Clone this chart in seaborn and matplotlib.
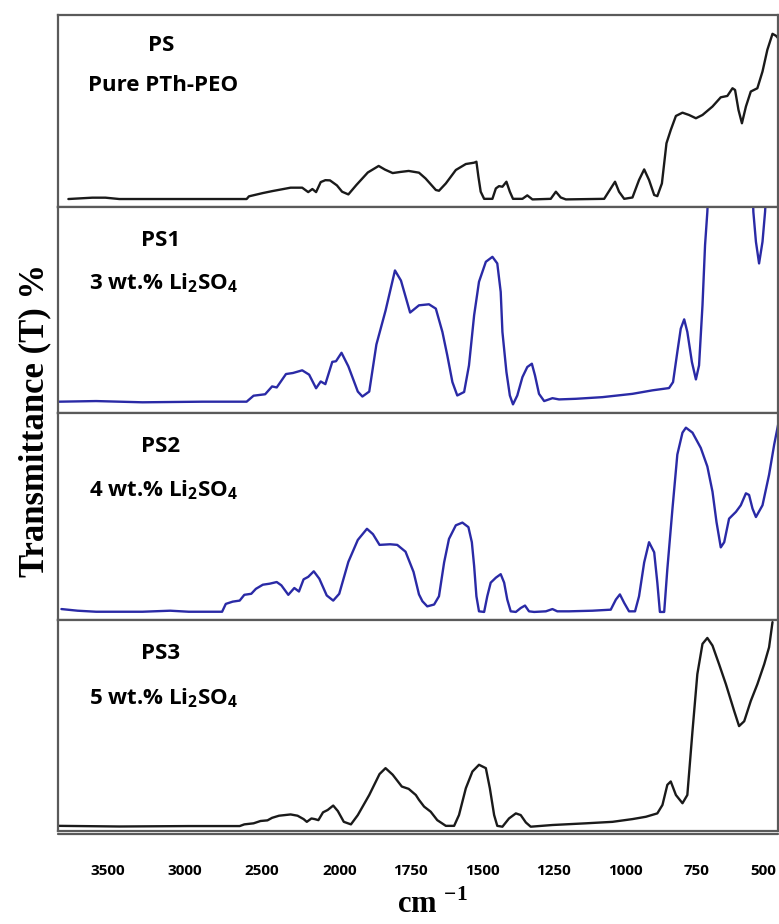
import numpy as np
import pandas as pd
import matplotlib
matplotlib.use("Agg")
import matplotlib.pyplot as plt
import matplotlib.transforms as mtransforms
import seaborn as sns

# wavenumber (cm-1) and transmittance (arbitrary units, 0-100 per panel)
ps_wn = [3755, 3600, 3515, 3425, 2600, 2585, 2495, 2435, 2315, 2240, 2201, 2174, 2150, 2120,
         2090, 2060, 2015, 1990, 1968, 1940, 1900, 1862, 1840, 1813, 1785, 1757, 1721, 1698,
         1662, 1651, 1627, 1592, 1557, 1528, 1520, 1513, 1505, 1493, 1464, 1452, 1441, 1429,
         1415, 1403, 1392, 1359, 1342, 1324, 1260, 1242, 1225, 1207, 1073, 1050, 1035, 1021,
         1003, 974, 951, 933, 916, 898, 887, 871, 855, 840, 822, 799, 776, 752, 729, 694,
         665, 642, 624, 615, 603, 591, 577, 560, 537, 519, 502, 484, 472, 464]
ps_t = [4.2, 4.9, 4.9, 4.2, 4.2, 5.6, 7.3, 8.3, 10.1, 10.1, 7.8, 9.4, 7.8, 13.0,
        14.0, 13.9, 11.3, 8.0, 6.6, 11.5, 18.0, 21.4, 19.5, 17.7, 18.3, 18.8, 17.9, 14.9,
        8.9, 8.5, 12.3, 19.3, 22.4, 23.1, 23.6, 15.8, 8.0, 4.3, 4.3, 9.7, 10.9, 10.6,
        13.2, 8.0, 4.3, 4.3, 6.1, 4.0, 4.3, 8.0, 5.0, 4.0, 4.3, 9.7, 13.2, 8.0,
        4.3, 5.0, 14.1, 19.6, 14.1, 6.3, 5.7, 12.3, 33.2, 40.1, 47.4, 49.1, 47.9, 46.2, 47.9, 52.3,
        57.1, 57.8, 61.8, 60.9, 50.5, 43.6, 52.3, 60.1, 61.8, 70.5, 81.8, 90.1, 89.1, 87.8]

ps1_wn = [3815, 3575, 3275, 2885, 2600, 2555, 2480, 2435, 2405, 2345, 2300, 2240, 2195, 2150,
          2120, 2090, 2045, 2021, 1992, 1968, 1935, 1919, 1895, 1870, 1838, 1805, 1784, 1752,
          1721, 1686, 1662, 1639, 1622, 1604, 1587, 1563, 1546, 1528, 1511, 1487, 1464, 1447,
          1435, 1429, 1415, 1403, 1392, 1377, 1359, 1342, 1326, 1315, 1301, 1283, 1254, 1231,
          1172, 1079, 974, 904, 846, 832, 817, 805, 793, 782, 766, 752, 741, 729,
          720, 712, 708, 554, 551, 542, 531, 519, 510, 505]
ps1_t = [5.7, 6.0, 5.4, 5.7, 5.7, 8.6, 9.3, 13.1, 12.6, 19.1, 19.6, 20.9, 18.8, 12.2,
         15.5, 14.2, 25.0, 25.3, 29.4, 22.8, 10.6, 8.2, 10.6, 33.4, 49.8, 69.3, 64.4, 48.9,
         52.4, 52.9, 50.8, 39.5, 28.2, 15.2, 8.7, 10.4, 23.3, 47.6, 63.8, 73.5, 75.9, 72.7,
         58.9, 39.5, 20.1, 8.7, 4.4, 8.7, 17.6, 22.5, 24.1, 18.4, 9.5, 6.0, 7.4, 6.8,
         7.1, 7.9, 9.5, 11.2, 12.3, 15.2, 29.8, 41.1, 45.6, 39.5, 24.9, 16.5, 23.3, 52.4,
         81.6, 97.7, 110.0, 110.0, 97.7, 83.2, 72.7, 83.2, 97.7, 110.0]

ps2_wn = [3800, 3695, 3575, 3275, 3095, 2975, 2759, 2735, 2690, 2645, 2615, 2570, 2540, 2495,
          2450, 2405, 2375, 2330, 2291, 2261, 2231, 2201, 2165, 2129, 2081, 2039, 2000, 1968,
          1935, 1903, 1882, 1859, 1822, 1797, 1768, 1740,
          1721, 1709, 1692, 1668, 1651, 1633, 1616, 1592, 1569, 1548,
          1536, 1528, 1520, 1511, 1493, 1482, 1470, 1452, 1435, 1423,
          1412, 1400, 1382, 1365, 1350, 1336, 1318, 1277, 1254, 1237,
          1196, 1114, 1050, 1032, 1018, 1003, 986, 965, 951, 933,
          916, 898, 887, 878, 863, 852, 834, 817, 799, 787,
          764, 735, 712, 694, 680, 665, 653, 636, 612, 595,
          577, 566, 554, 542, 519, 496, 478, 464]
ps2_t = [5.2, 4.4, 3.9, 3.9, 4.4, 3.9, 3.9, 7.7, 8.8, 9.3, 12.1, 12.6, 15.0, 17.0,
         17.5, 18.3, 16.7, 12.1, 15.4, 13.7, 19.6, 20.8, 23.5, 19.9, 11.8, 9.3, 12.6, 28.1,
         38.7, 44.1, 41.5, 36.3, 36.6, 36.3, 33.0, 23.2,
         12.3, 9.0, 6.5, 7.4, 11.4, 27.8, 39.2, 45.8, 47.1, 44.9,
         37.6, 26.1, 11.4, 4.1, 3.8, 11.4, 18.0, 20.4, 22.1, 18.0,
         9.8, 4.1, 3.8, 5.7, 6.9, 4.1, 3.8, 4.1, 5.2, 4.1,
         4.1, 4.4, 4.9, 9.8, 12.3, 8.2, 4.1, 4.1, 11.4, 27.8,
         37.6, 32.7, 18.0, 3.8, 3.8, 24.5, 53.9, 80.1, 90.7, 93.1,
         90.7, 83.3, 74.3, 62.1, 47.4, 35.1, 37.6, 49.0, 52.3, 55.5,
         61.3, 60.5, 53.9, 49.8, 55.5, 70.3, 85.0, 94.8]

ps3_wn = [3815, 3425, 2975, 2645, 2615, 2555, 2510, 2465, 2435, 2390, 2315, 2270, 2231, 2210,
          2180, 2159, 2135, 2105, 2075, 2039, 2009, 1984, 1959, 1935, 1895, 1859, 1838, 1813,
          1781, 1757, 1732,
          1721, 1703, 1680, 1657, 1627, 1598, 1581, 1557, 1534, 1511,
          1487, 1473, 1458, 1447, 1429, 1406, 1382, 1365, 1347, 1330,
          1254, 1137, 1044, 974, 927, 887, 869, 852, 840, 822,
          799, 782, 764, 747, 729, 712, 694, 671, 647, 618,
          601, 583, 560, 537, 513, 496, 484]
ps3_t = [2.5, 2.2, 2.4, 2.4, 3.2, 3.7, 4.8, 5.1, 6.3, 7.3, 7.9, 7.3, 5.7, 4.4,
         6.0, 5.7, 5.2, 8.9, 10.0, 12.1, 9.5, 4.4, 3.2, 7.6, 17.1, 27.0, 29.8, 26.7,
         21.1, 20.0, 17.1,
         14.8, 11.6, 9.2, 5.2, 2.5, 2.5, 7.6, 20.3, 28.2, 31.4,
         29.8, 20.3, 7.6, 2.5, 2.1, 6.0, 8.4, 7.6, 4.1, 2.1,
         2.9, 3.7, 4.4, 5.7, 6.8, 8.4, 12.4, 21.9, 23.5, 17.1,
         13.2, 17.1, 47.3, 74.3, 88.6, 91.4, 87.8, 79.0, 69.5, 56.8,
         49.7, 52.0, 61.6, 69.5, 79.0, 87.0, 98.9]

sub = "Li$_\\mathregular{2}$SO$_\\mathregular{4}$"
panels = [
    (ps_wn, ps_t, "#1a1a1a", "PS", "Pure PTh-PEO"),
    (ps1_wn, ps1_t, "#2a2aa6", "PS1", "3 wt.% " + sub),
    (ps2_wn, ps2_t, "#2a2aa6", "PS2", "4 wt.% " + sub),
    (ps3_wn, ps3_t, "#1a1a1a", "PS3", "5 wt.% " + sub),
]
xticks = [3500, 3000, 2500, 2000, 1750, 1500, 1250, 1000, 750, 500]

sns.set_style("white")
label_font = ["Open Sans", "DejaVu Sans"]
serif_font = ["Liberation Serif", "DejaVu Serif"]


# FTIR style axis: the region above 2000 cm-1 is compressed
def fwd(x):
    x = np.asarray(x, dtype=float)
    return np.where(x > 2000, 2000 + (x - 2000) * 0.54, x)


def inv(t):
    t = np.asarray(t, dtype=float)
    return np.where(t > 2000, 2000 + (t - 2000) / 0.54, t)


fig, axes = plt.subplots(4, 1, figsize=(7.79, 9.24), dpi=100, sharex=True,
                         gridspec_kw={"height_ratios": [192, 206, 206, 211], "hspace": 0})
fig.subplots_adjust(left=0.0745, right=0.999, top=0.984, bottom=0.1005)

for ax, (wn, t, color, name, desc) in zip(axes, panels):
    df = pd.DataFrame({"wn": wn, "t": t})
    sns.lineplot(data=df, x="wn", y="t", ax=ax, color=color, lw=1.7,
                 estimator=None, sort=False)
    ax.set_xscale("function", functions=(fwd, inv))
    ax.set_xlim(3822, 464)
    ax.set_ylim(0, 100)
    ax.set_yticks([])
    ax.set_xlabel("")
    ax.set_ylabel("")
    for sp in ax.spines.values():
        sp.set_color("#5a5a5a")
        sp.set_linewidth(1.6)
    ax.tick_params(axis="x", length=0)
    ax.text(0.143, 0.84, name, transform=ax.transAxes, ha="center", va="center",
            fontsize=16, fontweight="bold", family=label_font, color="black")
    ax.text(0.146, 0.63, desc, transform=ax.transAxes, ha="center", va="center",
            fontsize=16, fontweight="bold", family=label_font, color="black")

bottom = axes[-1]
bottom.set_xticks(xticks)
bottom.set_xticklabels([str(v) for v in xticks])
bottom.tick_params(axis="x", direction="out", length=12, width=1.5, color="#444444",
                   pad=12, labelsize=11, labelcolor="black")
for lab in bottom.get_xticklabels():
    lab.set_fontweight("bold")
    lab.set_family(label_font)
last = bottom.get_xticklabels()[-1]
last.set_transform(last.get_transform() +
                   mtransforms.ScaledTranslation(-0.05, 0, fig.dpi_scale_trans))
# double line under the last panel
bottom.plot([0, 1], [-0.014, -0.014], transform=bottom.transAxes, color="#5a5a5a",
            lw=1.6, clip_on=False)

fig.text(0.555, 0.012, "cm $^{\\mathregular{-1}}$", ha="center", va="baseline",
         fontsize=22, fontweight="bold", family=serif_font, color="black")
fig.text(0.045, 0.545, "Transmittance (T) %", rotation=90, ha="center", va="center",
         fontsize=25, fontweight="bold", family=serif_font, color="black")

fig.savefig("out.png", dpi=100)
plt.close(fig)
